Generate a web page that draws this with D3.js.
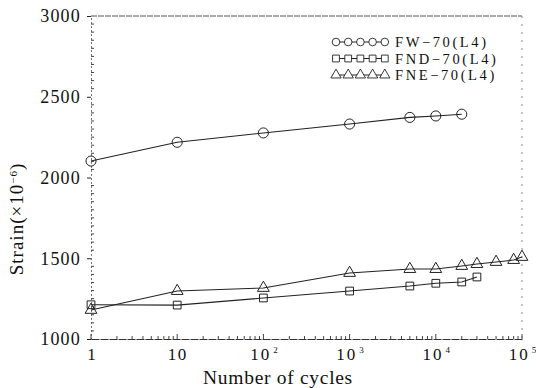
<!DOCTYPE html>
<html><head><meta charset="utf-8">
<script src="https://cdn.jsdelivr.net/npm/d3@7"></script>
<style>body{margin:0;background:#fff}svg{display:block}text{font-family:"Liberation Serif","DejaVu Serif",serif;fill:#111}</style>
</head><body><svg id="c" width="536" height="388"></svg>
<script>
const cyclesFW  = [1, 10, 100, 1000, 5000, 10000, 20000];
const strainFW  = [2102, 2218, 2276, 2331, 2372, 2381, 2392];
const cyclesFND = [1, 10, 100, 1000, 5000, 10000, 20000, 30000];
const strainFND = [1212, 1210, 1254, 1297, 1328, 1345, 1353, 1384];
const cyclesFNE = [1, 10, 100, 1000, 5000, 10000, 20000, 30000, 50000, 80000, 100000];
const strainFNE = [1180, 1297, 1316, 1409, 1433, 1433, 1452, 1464, 1477, 1489, 1508];
const seriesNames = ["FW\u221270(L4)", "FND\u221270(L4)", "FNE\u221270(L4)"];
const yTicks = [1000, 1500, 2000, 2500, 3000];
const xTicks = [1, 10, 100, 1000, 10000, 100000];

const svg = d3.select("#c");
const L = 91, R = 522, T = 16, B = 339;
const x = d3.scaleLog().domain([1, 1e5]).range([L, R]);
const y = d3.scaleLinear().domain([1000, 3000]).range([B, T]);
const ink = "#222";

// frame
svg.append("line").attr("x1", L).attr("x2", R).attr("y1", T).attr("y2", T)
  .attr("stroke", "#555").attr("stroke-width", 1).attr("stroke-dasharray", "6,1");
svg.append("line").attr("x1", R).attr("x2", R).attr("y1", T).attr("y2", B)
  .attr("stroke", "#888").attr("stroke-width", 1).attr("stroke-dasharray", "2,6");

// y axis
const yAx = svg.append("g").attr("transform", `translate(${L},0)`)
  .call(d3.axisLeft(y).tickValues(yTicks).tickSize(4).tickPadding(6).tickFormat(d3.format("d")));
yAx.select(".domain").attr("stroke", "#777").attr("stroke-dasharray", "2,2");
yAx.selectAll(".tick line").attr("stroke", ink);
yAx.selectAll("text").attr("font-size", 18).attr("letter-spacing", 1.2).attr("fill", "#111");
svg.append("g").selectAll("line").data(d3.range(1000, 3001, 50).filter(v => v % 500))
  .join("line").attr("x1", L).attr("x2", L + 3).attr("y1", d => y(d)).attr("y2", d => y(d))
  .attr("stroke", "#444").attr("stroke-width", 1);

// x axis
const xAx = svg.append("g").attr("transform", `translate(0,${B})`)
  .call(d3.axisBottom(x).tickValues(xTicks).tickSize(0).tickPadding(12).tickFormat(""));
xAx.select(".domain").attr("stroke", "#333").attr("stroke-dasharray", "8,1");
xAx.selectAll(".tick").each(function(d) {
  const g = d3.select(this);
  const t = g.append("text").attr("y", 21).attr("font-size", 17).attr("text-anchor", "middle").attr("fill", "#111");
  const e = Math.round(Math.log10(d));
  if (e === 0) t.text("1");
  else if (e === 1) t.attr("letter-spacing", 1.5).text("10");
  else {
    t.append("tspan").attr("letter-spacing", 2).text("10");
    t.append("tspan").attr("dx", 2).attr("dy", -7).attr("font-size", 9).text(e);
  }
});
const minor = [];
for (let e = 0; e < 5; e++) for (let k = 2; k <= 9; k++) minor.push(k * Math.pow(10, e));
svg.append("g").selectAll("line").data(minor).join("line")
  .attr("x1", d => x(d)).attr("x2", d => x(d)).attr("y1", B).attr("y2", B - 3)
  .attr("stroke", "#444").attr("stroke-width", 1);
svg.append("g").selectAll("line").data(xTicks).join("line")
  .attr("x1", d => x(d)).attr("x2", d => x(d)).attr("y1", B).attr("y2", B - 5)
  .attr("stroke", "#444").attr("stroke-width", 1);

// labels
svg.append("text").attr("x", 278).attr("y", 384).attr("text-anchor", "middle")
  .attr("font-size", 19.5).attr("letter-spacing", 0.7).text("Number of cycles");
const yl = svg.append("text").attr("transform", "translate(23,219) rotate(-90)")
  .attr("text-anchor", "middle").attr("font-size", 19).attr("letter-spacing", 1);
yl.append("tspan").text("Strain(\u00d710");
yl.append("tspan").attr("dy", -6).attr("font-size", 11).text("\u22126");
yl.append("tspan").attr("dy", 6).text(")");

// series
const mk = (xs, ys) => xs.map((c, i) => ({c, v: ys[i]}));
const series = [mk(cyclesFW, strainFW), mk(cyclesFND, strainFND), mk(cyclesFNE, strainFNE)];
const line = d3.line().x(d => x(d.c)).y(d => y(d.v));
const shapes = [d3.symbolCircle, d3.symbolSquare, d3.symbolTriangle];
const sizes = [80, 60, 60];
series.forEach((data, i) => {
  svg.append("path").datum(data).attr("d", line).attr("fill", "none")
    .attr("stroke", ink).attr("stroke-width", 1.1);
  svg.append("g").selectAll("path").data(data).join("path")
    .attr("transform", d => `translate(${x(d.c)},${y(d.v)})`)
    .attr("d", d3.symbol(shapes[i], sizes[i])).attr("fill", "none")
    .attr("stroke", ink).attr("stroke-width", 1);
});

// legend
const lg = svg.append("g");
seriesNames.forEach((n, i) => {
  const yy = 42 + i * 16.5;
  lg.append("line").attr("x1", 332).attr("x2", 386).attr("y1", yy).attr("y2", yy)
    .attr("stroke", ink).attr("stroke-width", 1);
  for (let k = 0; k < 5; k++) {
    lg.append("path").attr("transform", `translate(${336 + k * 12.2},${yy})`)
      .attr("d", d3.symbol(shapes[i], 46)).attr("fill", "#fff").attr("stroke", ink).attr("stroke-width", 0.9);
  }
  lg.append("text").attr("x", 395).attr("y", yy + 5).attr("font-size", 14.5).attr("letter-spacing", 2.6).text(n);
});
</script></body></html>
